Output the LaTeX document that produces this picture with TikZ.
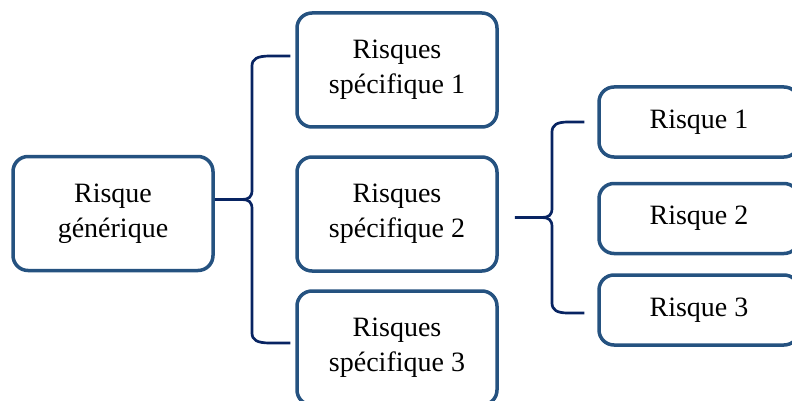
\documentclass[tikz,border=0pt]{standalone}
\usepackage{fontspec}
\setmainfont{Liberation Serif}
\definecolor{boxblue}{RGB}{37,82,128}
\definecolor{bracenavy}{RGB}{8,36,98}
\begin{document}
\begin{tikzpicture}[x=1pt,y=1pt,
  riskbox/.style={draw=boxblue, line width=3.5pt, rounded corners=15pt, fill=white,
    minimum width=200pt, minimum height=114pt, align=center, inner sep=0pt,
    font=\fontsize{28}{35}\selectfont},
  smallbox/.style={riskbox, minimum height=70pt},
  brace/.style={draw=bracenavy, line width=2.7pt, line join=round}]
\useasboundingbox (0,0) rectangle (792,-401);
\clip (0,0) rectangle (792,-401);

% generic risk
\node[riskbox] (gen) at (113,-213.5) {Risque\\générique};

% specific risks
\node[riskbox] (s1) at (397,-70) {Risques\\spécifique 1};
\node[riskbox] (s2) at (397,-214) {Risques\\spécifique 2};
\node[riskbox] (s3) at (397,-348) {Risques\\spécifique 3};

% detailed risks
\node[smallbox] (r1) at (699,-122) {Risque 1};
\node[smallbox] (r2) at (699,-218.5) {Risque 2};
\node[smallbox] (r3) at (699,-310) {Risque 3};

% brace from the generic risk to the specific risks
\coordinate (t1) at ([xshift=-5pt]s1.west |- 0,-56);
\coordinate (t3) at ([xshift=-5pt]s3.west |- 0,-343);
\draw[brace] (gen.east |- 0,-199.5) -- (242,-199.5)
  .. controls (249,-199.5) and (252,-197) .. (252,-190) -- (252,-66)
  .. controls (252,-59) and (257,-56) .. (270,-56) -- (t1);
\draw[brace] (242,-199.5)
  .. controls (249,-199.5) and (252,-202) .. (252,-209) -- (252,-333)
  .. controls (252,-340) and (257,-343) .. (270,-343) -- (t3);

% brace from specific risk 2 to the detailed risks
\coordinate (u1) at ([xshift=-13pt]r1.west |- 0,-122);
\coordinate (u3) at ([xshift=-13pt]r3.west |- 0,-313);
\draw[brace] ([xshift=16pt]s2.east |- 0,-217.5) -- (542,-217.5)
  .. controls (549,-217.5) and (552,-215) .. (552,-208) -- (552,-132)
  .. controls (552,-125) and (557,-122) .. (568,-122) -- (u1);
\draw[brace] (542,-217.5)
  .. controls (549,-217.5) and (552,-220) .. (552,-227) -- (552,-303)
  .. controls (552,-310) and (557,-313) .. (568,-313) -- (u3);
\end{tikzpicture}
\end{document}
